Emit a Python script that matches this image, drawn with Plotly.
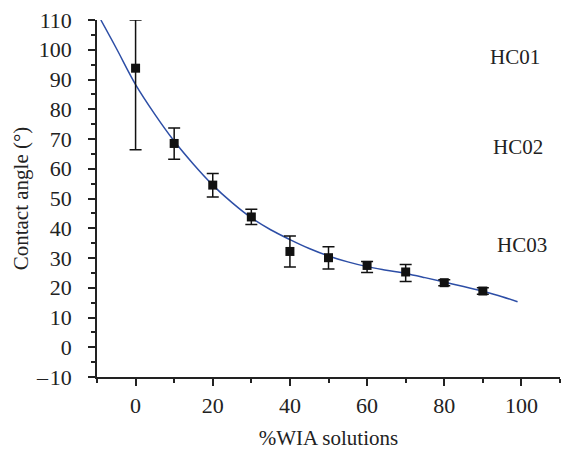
import plotly.graph_objects as go

# Measured data
wia = [0, 10, 20, 30, 40, 50, 60, 70, 80, 90]
angle = [93.8, 68.5, 54.5, 43.8, 32.2, 30.1, 27.5, 25.3, 21.7, 18.9]
err_plus = [16.2, 5.2, 3.9, 2.6, 5.2, 3.7, 1.3, 2.5, 1.0, 1.1]
err_minus = [27.4, 5.3, 4.0, 2.5, 5.2, 3.8, 2.4, 3.2, 1.0, 1.1]

# Fitted trend line
fit_x = [-9, -5, 0, 5, 10, 15, 20, 25, 30, 35, 40, 45, 50, 55, 60, 65, 70, 75, 80, 85, 90, 95, 99]
fit_y = [110, 100.5, 88.3, 78.3, 69.3, 61.5, 54.5, 48.6, 43.5, 39.5, 36.2, 33.2, 30.7, 28.7, 27.1,
         25.9, 24.8, 23.4, 21.9, 20.4, 18.8, 17.0, 15.3]

# Labels
labels = ["HC01", "HC02", "HC03"]
label_x = [98.4, 99.0, 100.2]
label_y = [97.5, 67.2, 34.3]

y_ticks = list(range(-10, 111, 10))
y_ticktext = ["\u2013\u200a10"] + [str(v) for v in y_ticks[1:]]
x_ticks = [0, 20, 40, 60, 80, 100]

font_family = "Liberation Serif, Times New Roman, serif"
ink = "#222222"
fs = 21
tfs = 22

fig = go.Figure()
fig.add_trace(go.Scatter(
    x=fit_x, y=fit_y, mode="lines", line=dict(color="#2d4ea6", width=1.5, shape="spline"),
    hoverinfo="skip", showlegend=False))
fig.add_trace(go.Scatter(
    x=wia, y=angle, mode="markers",
    marker=dict(symbol="square", size=9, color="#111111"),
    error_y=dict(type="data", array=err_plus, arrayminus=err_minus, symmetric=False,
                 color="#111111", thickness=1.5, width=6),
    showlegend=False))

for t, lx, ly in zip(labels, label_x, label_y):
    fig.add_annotation(x=lx, y=ly, text=t, showarrow=False, xref="x", yref="y",
                       font=dict(family=font_family, size=fs, color=ink))

fig.update_layout(
    width=562, height=450,
    margin=dict(l=97, r=2, t=20, b=73),
    paper_bgcolor="white", plot_bgcolor="white",
    font=dict(family=font_family, size=fs, color=ink),
    xaxis=dict(range=[-10, 110], tickvals=x_ticks, showgrid=False, zeroline=False,
               showline=True, linecolor=ink, linewidth=1.5, automargin=False,
               ticks="outside", ticklen=7, tickwidth=1.5, tickcolor=ink,
               minor=dict(dtick=10, tick0=0, ticks="outside", ticklen=4, tickwidth=1.5, tickcolor=ink),
               tickfont=dict(size=tfs), ticklabelstandoff=1,
               title=dict(text="%WIA solutions", standoff=13, font=dict(size=fs))),
    yaxis=dict(range=[-10, 110], tickvals=y_ticks, ticktext=y_ticktext, showgrid=False, zeroline=False,
               showline=True, linecolor=ink, linewidth=1.5, automargin=False,
               ticks="outside", ticklen=7, tickwidth=1.5, tickcolor=ink,
               minor=dict(dtick=5, tick0=0, ticks="outside", ticklen=4, tickwidth=1.5, tickcolor=ink),
               tickfont=dict(size=tfs), ticklabelstandoff=12,
               title=dict(text="Contact angle (\u00b0)", standoff=2, font=dict(size=fs))),
)

# remove the default page margin so the figure fills the 562x450 window exactly
fig.write_html("out.html", config={"displayModeBar": False},
               post_script="document.body.style.margin='0';")
